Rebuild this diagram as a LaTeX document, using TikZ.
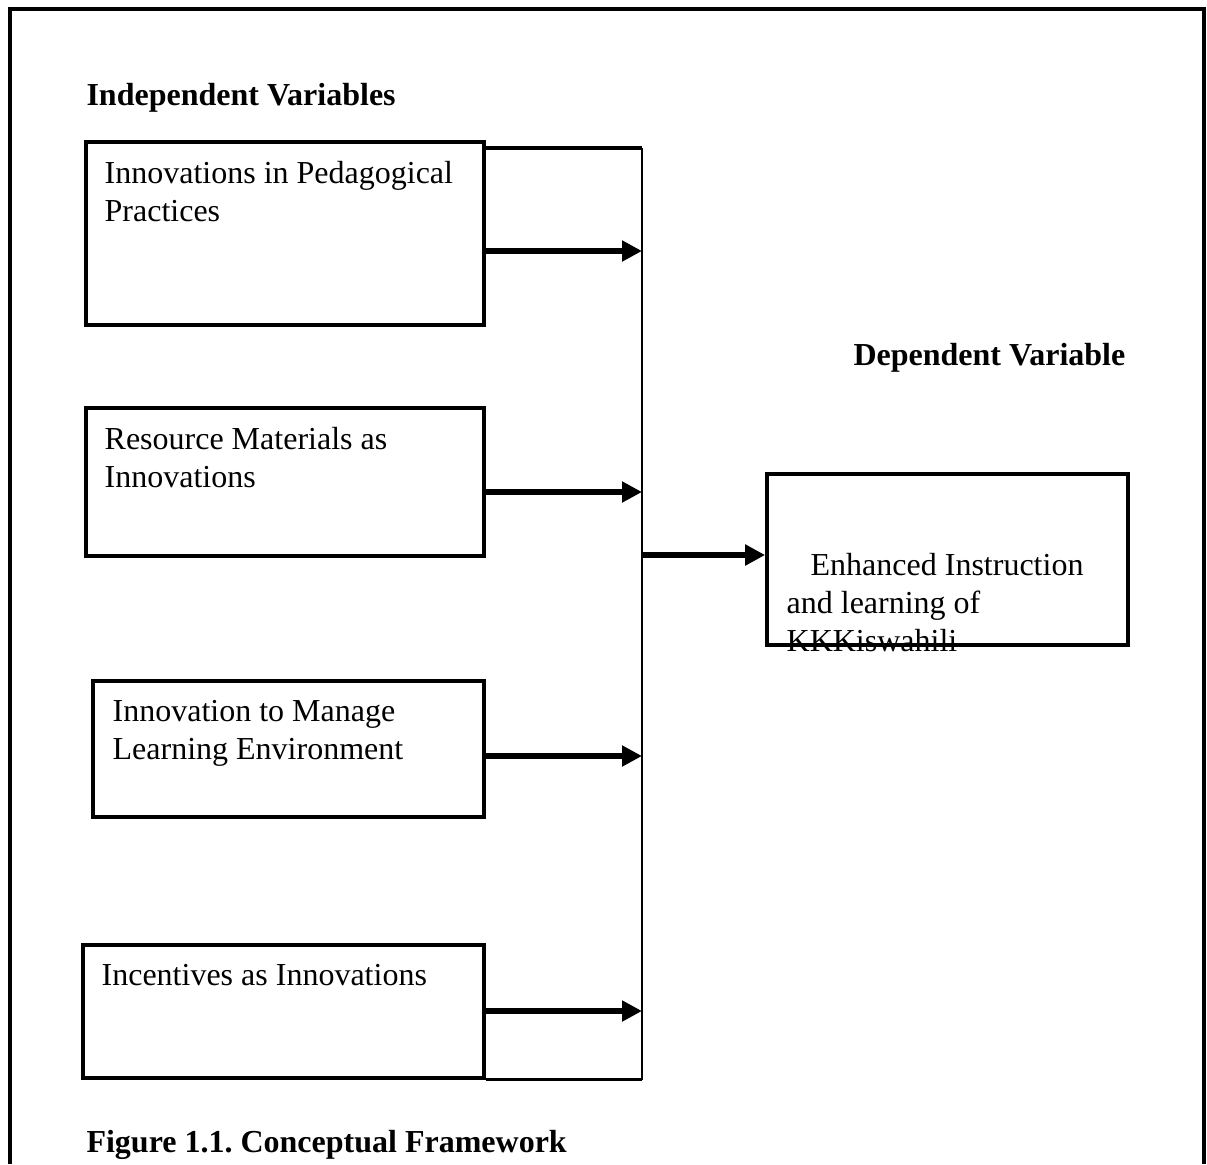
\documentclass[tikz,border=0pt]{standalone}
\usepackage{fontspec}
\setmainfont{Liberation Serif}
\usepackage{tikz}
\usetikzlibrary{arrows.meta, calc}
\frenchspacing

\tikzset{
	varbox/.style 2 args={draw, line width=1.4pt, inner sep=0pt, minimum width={#1*0.375pt}, minimum height={#2*0.375pt}},
	vartext/.style={anchor=north west, inner sep=0pt, align=left, font=\fontsize{12}{14.25}\selectfont},
	heading/.style={anchor=north west, inner sep=0pt, font=\fontsize{12}{14.25}\selectfont\bfseries},
	feed/.style={line width=2.1pt, -{Triangle[length=7.5pt, width=7.5pt]}},
	rail/.style={line width=1.2pt},
	bus/.style={line width=0.6pt}
}

\begin{document}
\begin{tikzpicture}[x=0.375pt, y=-0.375pt]
	\useasboundingbox (0,0) rectangle (1207,1164);
	% outer frame, open at the bottom
	\draw[line width=1.3pt] (10,1164) -- (10,9) -- (1204,9) -- (1204,1164);
	
	\node[heading] (indep) at (86,83) {Independent Variables};
	\node[heading] (dephead) at (853,343) {Dependent Variable};
	\node[heading] (caption) at (86,1130) {Figure 1.1. Conceptual Framework};
	
	% independent variables
	\node[varbox={398}{183}] (ped) at (285,233.5) {};
	\node[varbox={398}{148}] (res) at (285,482) {};
	\node[varbox={391}{136}] (env) at (288.5,749) {};
	\node[varbox={401}{133}] (inc) at (283.5,1011.5) {};
	
	\node[vartext] (ped-t) at ([shift={(20,21)}]ped.north west) {Innovations in Pedagogical\\Practices};
	\node[vartext] (res-t) at ([shift={(20,21)}]res.north west) {Resource Materials as\\Innovations};
	\node[vartext] (env-t) at ([shift={(21,21)}]env.north west) {Innovation to Manage\\Learning Environment};
	\node[vartext] (inc-t) at ([shift={(20,21)}]inc.north west) {Incentives as Innovations};
	
	% dependent variable
	\node[varbox={361}{171}] (dep) at (947.5,559.5) {};
	\node[vartext] (dep-t) at ([shift={(21,81)}]dep.north west) {\hspace*{9pt}Enhanced Instruction\\and learning of\\KKKiswahili};
	
	\coordinate (bustop) at (642,148);
	\coordinate (busbot) at (inc.south east -| bustop);
	
	\draw[rail] (ped.east |- bustop) -- (bustop);
	\draw[bus] (bustop) -- (busbot);
	\draw[rail] (inc.south east) -- (busbot);
	
	\draw[feed] (ped.east |- 0,251) -- (bustop |- 0,251);
	\draw[feed] (res.east |- 0,492) -- (bustop |- 0,492);
	\draw[feed] (env.east |- 0,756) -- (bustop |- 0,756);
	\draw[feed] (inc.east |- 0,1011) -- (bustop |- 0,1011);
	\draw[feed] (bustop |- 0,555) -- (dep.west |- 0,555);
\end{tikzpicture}
\end{document}
